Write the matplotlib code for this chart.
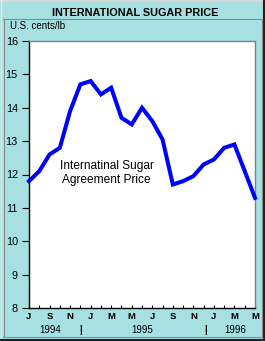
import matplotlib
matplotlib.use("Agg")
import matplotlib.pyplot as plt
from matplotlib.lines import Line2D

# Data (monthly, Jul 1994 - May 1996)
months = list(range(23))
prices = [11.8, 12.1, 12.6, 12.8, 13.9, 14.7, 14.8, 14.4, 14.6, 13.7, 13.5, 14.0,
          13.6, 13.05, 11.7, 11.8, 11.95, 12.3, 12.45, 12.8, 12.9, 12.1, 11.3]
tick_labels = ["J", "S", "N", "J", "M", "M", "J", "S", "N", "J", "M", "M"]
years = ["1994", "1995", "1996"]
year_pos = [2.1, 11.05, 20.1]
sep_pos = [5.05, 17.15]
yticks = [8, 9, 10, 11, 12, 13, 14, 15, 16]

W, H = 265, 341
bg = "#A6E0E0"
fig = plt.figure(figsize=(W / 100, H / 100), dpi=100, facecolor=bg)
plt.rcParams['font.family'] = ['Liberation Sans', 'DejaVu Sans']

def fx(px):
    return px / W

def fy(py):
    return 1 - py / H

# Borders
fig.add_artist(Line2D([0, 1], [fy(0.5), fy(0.5)], color="#d8d8d8", lw=1.5, transform=fig.transFigure))
fig.add_artist(Line2D([fx(0.5), fx(0.5)], [0, 1], color="#e8e8e8", lw=1.0, transform=fig.transFigure))
fig.add_artist(Line2D([0, 1], [fy(339.5), fy(339.5)], color="#202020", lw=2.2, transform=fig.transFigure))
fig.add_artist(Line2D([fx(263.5), fx(263.5)], [0, 1], color="#202020", lw=2.2, transform=fig.transFigure))
# inner panel lines
fig.add_artist(Line2D([fx(3), fx(262)], [fy(18.5), fy(18.5)], color="#8a8a8a", lw=0.8, transform=fig.transFigure))
fig.add_artist(Line2D([fx(3.5), fx(3.5)], [fy(18.5), fy(337)], color="#8a8a8a", lw=0.8, transform=fig.transFigure))
fig.add_artist(Line2D([fx(261.5), fx(261.5)], [fy(18.5), fy(337)], color="#8a8a8a", lw=0.8, transform=fig.transFigure))
fig.add_artist(Line2D([fx(3), fx(262)], [fy(336.5), fy(336.5)], color="#8a8a8a", lw=0.8, transform=fig.transFigure))

fig.text(fx(135), fy(12.5), "INTERNATIONAL SUGAR PRICE", ha="center", va="center",
         fontsize=7.8, fontweight="bold", color="black")
fig.text(fx(9.5), fy(26), "U.S. cents/lb", ha="left", va="center", fontsize=7.0, color="black")

ax = fig.add_axes([fx(29), fy(308), fx(255) - fx(29), fy(41) - fy(308)])
ax.set_facecolor("white")
ax.plot(months, prices, color="#0000FF", lw=2.9, solid_joinstyle="miter", clip_on=False, zorder=3)
ax.set_xlim(0, 22)
ax.set_ylim(8, 16)

ax.set_yticks(yticks)
ax.set_yticklabels([str(v) for v in yticks], fontsize=7.8)
ax.tick_params(axis="y", direction="out", length=5, width=0.8, pad=3)

ax.set_xticks(list(range(0, 23, 2)))
ax.set_xticks(list(range(0, 23)), minor=True)
ax.set_xticklabels(tick_labels, fontsize=6.8, fontweight="bold")
ax.tick_params(axis="x", which="both", direction="in", length=2.5, width=0.8, pad=3)

for s in ["left", "bottom"]:
    ax.spines[s].set_color("black")
    ax.spines[s].set_linewidth(1.0)
for s in ["top", "right"]:
    ax.spines[s].set_color("#808080")
    ax.spines[s].set_linewidth(1.0)

ax.text(7.55, 12.05, "Internatinal Sugar\nAgreement Price", ha="center", va="center",
        fontsize=8.6, linespacing=1.15, color="black")

trans = ax.get_xaxis_transform()
for y_, p in zip(years, year_pos):
    ax.text(p, -0.083, y_, ha="center", va="center", fontsize=7.0, transform=trans)
for p in sep_pos:
    ax.text(p, -0.083, "|", ha="center", va="center", fontsize=7, fontweight="bold", transform=trans)

fig.savefig("out.png", dpi=100, facecolor=bg)
